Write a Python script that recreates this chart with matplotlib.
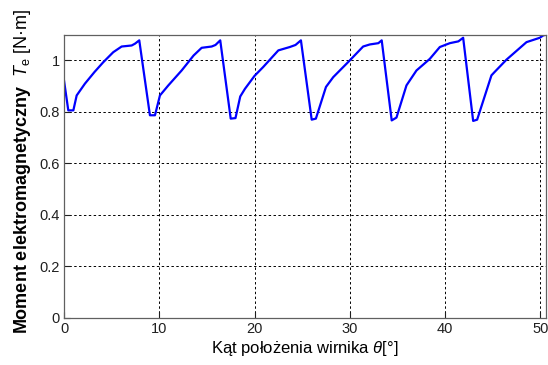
import matplotlib
matplotlib.use('Agg')
import matplotlib.pyplot as plt

# Kat polozenia wirnika [deg] i moment elektromagnetyczny [N.m]
theta = [0.0, 0.45, 0.98, 1.33, 2.2, 3.2, 4.12, 5.17, 6.05, 7.1, 7.45, 7.9,
         9.02, 9.55, 10.07, 10.95, 12.35, 13.6, 14.45, 15.5, 15.9, 16.4,
         17.5, 18.0, 18.5, 19.0, 20.0, 20.9, 22.5, 23.7, 24.3, 24.87,
         26.0, 26.44, 27.5, 28.26, 30.0, 31.4, 32.1, 33.0, 33.35,
         34.4, 34.9, 35.95, 37.0, 38.4, 39.45, 40.5, 41.4, 41.9,
         42.95, 43.37, 44.87, 45.2, 46.45, 48.55, 49.95, 50.3, 50.6]
Te = [0.922, 0.806, 0.806, 0.864, 0.91, 0.955, 0.993, 1.032, 1.054, 1.058, 1.065, 1.078,
      0.787, 0.787, 0.864, 0.903, 0.961, 1.019, 1.049, 1.054, 1.06, 1.078,
      0.774, 0.776, 0.86, 0.89, 0.94, 0.974, 1.039, 1.052, 1.06, 1.078,
      0.77, 0.774, 0.897, 0.935, 1.0, 1.054, 1.062, 1.067, 1.078,
      0.767, 0.778, 0.903, 0.961, 1.006, 1.052, 1.067, 1.074, 1.088,
      0.765, 0.77, 0.942, 0.955, 1.003, 1.071, 1.088, 1.097, 1.1]

xticks = [0, 10, 20, 30, 40, 50]
yticks = [0, 0.2, 0.4, 0.6, 0.8, 1]
yticklabels = ['0', '0.2', '0.4', '0.6', '0.8', '1']

plt.rcParams['font.family'] = ['Liberation Sans', 'DejaVu Sans']
plt.rcParams['mathtext.fontset'] = 'custom'
plt.rcParams['mathtext.rm'] = 'Liberation Sans'
plt.rcParams['mathtext.it'] = 'Liberation Sans:italic'
plt.rcParams['mathtext.bf'] = 'Liberation Sans:bold'

fig = plt.figure(figsize=(5.48, 3.65), dpi=100)
ax = fig.add_axes([0.1168, 0.129, 0.8796, 0.776])

ax.plot(theta, Te, color='#0000ff', linewidth=1.6)

ax.set_xlim(0, 50.6)
ax.set_ylim(0, 1.1)
ax.set_xticks(xticks)
ax.set_yticks(yticks)
ax.set_yticklabels(yticklabels)
ax.tick_params(direction='in', length=4, labelsize=10.5, colors='#202020', pad=3)
ax.grid(True, color='black', linestyle=(0, (2.5, 2.5)), linewidth=0.7)
for s in ax.spines.values():
    s.set_color('#606060')
    s.set_linewidth(0.9)

ax.set_xlabel(r'Kąt położenia wirnika $\theta$[°]', fontsize=12, labelpad=2)
ax.set_ylabel(r'$\mathbf{Moment\ elektromagnetyczny}\ \ T_{\rm e}$ [N·m]', fontsize=13)
ax.yaxis.set_label_coords(-0.064, 0.519)

fig.savefig('out.png', dpi=100)
